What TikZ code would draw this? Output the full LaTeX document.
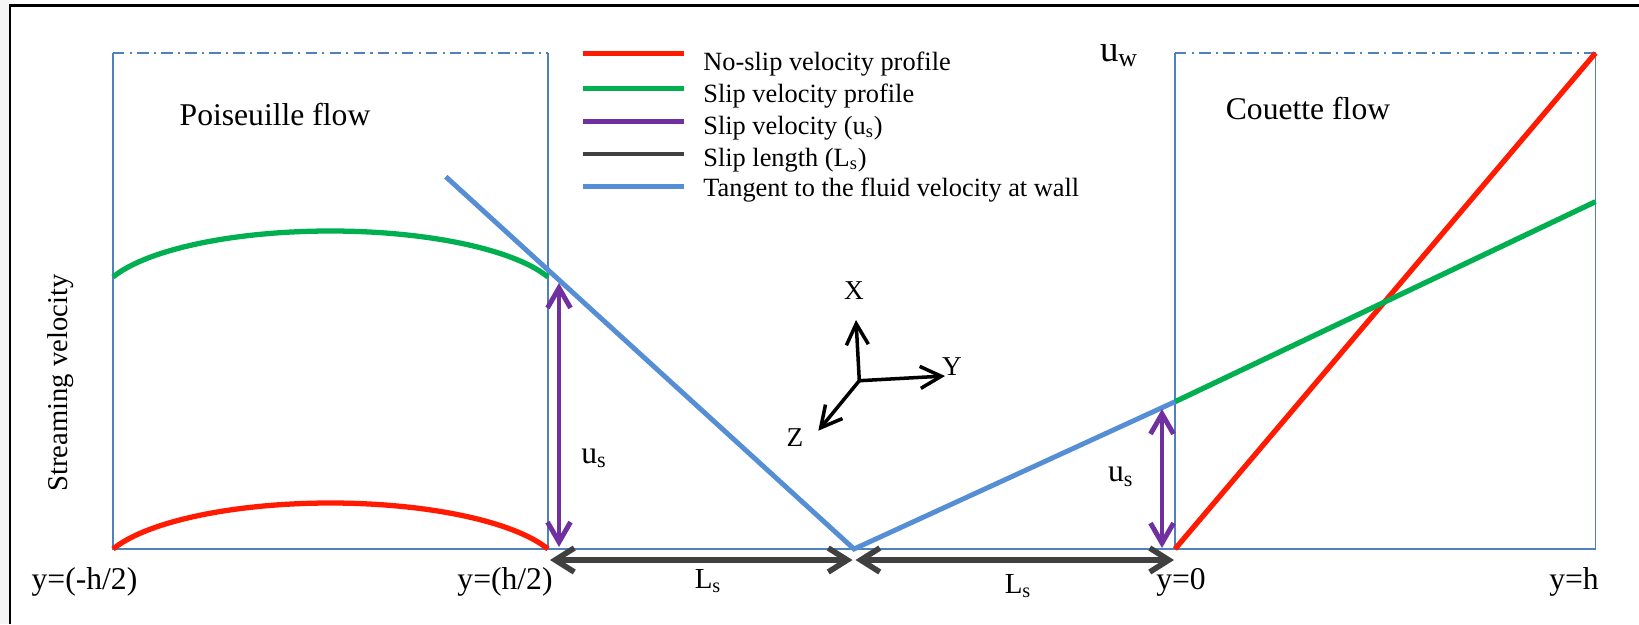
\documentclass[tikz,border=0pt]{standalone}
\usepackage{fontspec}
\setmainfont{Liberation Serif}
\usetikzlibrary{arrows.meta}

\definecolor{wallblue}{HTML}{4F81BD}
\definecolor{tanblue}{HTML}{558ED5}
\definecolor{noslipred}{HTML}{FF1A00}
\definecolor{slipgreen}{HTML}{00B050}
\definecolor{slippurple}{HTML}{7030A0}
\definecolor{lengthgray}{HTML}{404040}

\begin{document}
\begin{tikzpicture}[
    x=0.2mm,
    y=-0.2mm,
    every node/.style={inner sep=0pt, font=\fontsize{18}{21}\selectfont},
    legendtext/.style={anchor=base west, font=\fontsize{15}{18}\selectfont},
    axislabel/.style={font=\fontsize{15.5}{18}\selectfont},
    wall/.style={draw=wallblue, line width=1.1pt},
    lid/.style={draw=wallblue, line width=1.1pt, dash pattern=on 6.5pt off 3pt on 1.2pt off 3pt},
    profile/.style={line width=3pt},
    tangent/.style={draw=tanblue, line width=2.8pt},
    slipvel/.style={draw=slippurple, line width=2.8pt, <->, >={Straight Barb[length=4mm,width=4.6mm]}},
    sliplen/.style={draw=lengthgray, line width=3.2pt, <->, >={Straight Barb[length=3.8mm,width=4.8mm]}},
    axis/.style={draw=black, line width=2pt, ->, >={Straight Barb[length=4.2mm,width=4.4mm]}}
  ]
    \useasboundingbox (0,0) rectangle (1639,624);
    \fill[black!4] (0,0) rectangle (8.6,624);
    \draw[line width=1.5pt] (10,624) -- (10,5.7) -- (1639,5.7);

    \coordinate (pTL) at (113,53);
    \coordinate (pTR) at (548,53);
    \coordinate (pBL) at (113,549);
    \coordinate (pBR) at (548,549);
    \coordinate (cTL) at (1175,53);
    \coordinate (cTR) at (1595.5,53);
    \coordinate (cBL) at (1175,549);
    \coordinate (cBR) at (1595.5,549);

    \draw[wall] (pTL) -- (pBL) -- (cBR) -- (cTR);
    \draw[wall] (pTR) -- (pBR);
    \draw[wall] (cTL) -- (cBL);
    \draw[lid] (pTL) -- (pTR);
    \draw[lid] (cTL) -- (cTR);

    \node[anchor=base] (pois) at (275,125) {Poiseuille flow};
    \node[anchor=base] (cou) at (1308,119) {Couette flow};
    \node[anchor=base, font=\fontsize{21}{24}\selectfont] (uw) at (1119,61) {u\textsubscript{w}};
    \node[rotate=90, font=\fontsize{16.3}{19}\selectfont] (ylab) at (61,383) {Streaming velocity};

    \draw[profile, noslipred] plot[domain=113:548, samples=100] (\x, {574-71*sqrt(1-((\x-330.5)/232.4)^2)});
    \draw[profile, slipgreen] plot[domain=113:548, samples=100] (\x, {302-71*sqrt(1-((\x-330.5)/232.4)^2)});

    \coordinate (cslip) at (1175,401.7);
    \coordinate (cslipw) at (1595.5,201.7);
    \coordinate (vtx) at (854,549);
    \coordinate (ptan) at (445.8,176.7);
    \draw[profile, noslipred] (cBL) -- (cTR);
    \draw[profile, slipgreen] (cslip) -- (cslipw);
    \draw[tangent] (ptan) -- (vtx) -- (cslip);

    \draw[slipvel] (559,283) -- (559,547);
    \draw[slipvel] (1162,409) -- (1162,548);
    \node[anchor=base] (usl) at (594,463) {u\textsubscript{s}};
    \node[anchor=base] (usr) at (1120.7,481.7) {u\textsubscript{s}};

    \draw[sliplen] (550,560) -- (852.5,560);
    \draw[sliplen] (855.5,560) -- (1174,560);
    \node[anchor=base, font=\fontsize{16.5}{19}\selectfont] (lsl) at (708,588) {L\textsubscript{s}};
    \node[anchor=base, font=\fontsize{16.5}{19}\selectfont] (lsr) at (1018,593) {L\textsubscript{s}};

    \node[anchor=base] (ybl) at (84.5,589) {y=(-h/2)};
    \node[anchor=base] (ybr) at (505,589) {y=(h/2)};
    \node[anchor=base] (yc0) at (1181,589) {y=0};
    \node[anchor=base] (ych) at (1574,589) {y=h};

    \coordinate (axo) at (859.3,380.7);
    \coordinate (axx) at (856,320);
    \coordinate (axy) at (945,376);
    \coordinate (axz) at (818.3,430.7);
    \draw[axis] (axo) -- (axx);
    \draw[axis] (axo) -- (axy);
    \draw[axis] (axo) -- (axz);
    \node[axislabel] (xl) at (854,291) {X};
    \node[axislabel] (yl) at (952,367) {Y};
    \node[axislabel] (zl) at (795,438) {Z};

    \foreach \ly/\by/\col/\txt [count=\i] in {53.3/70.7/noslipred/{No-slip velocity profile},
        88.3/102/slipgreen/{Slip velocity profile},
        121.7/134/slippurple/{Slip velocity (u\textsubscript{s})},
        154/166/lengthgray/{Slip length (L\textsubscript{s})},
        186.7/196.7/tanblue/{Tangent to the fluid velocity at wall}} {
      \draw[draw=\col, line width=2.6pt] (583,\ly) -- (684,\ly);
      \node[legendtext] (leg\i) at (703,\by) {\txt};
    }
  \end{tikzpicture}
\end{document}
